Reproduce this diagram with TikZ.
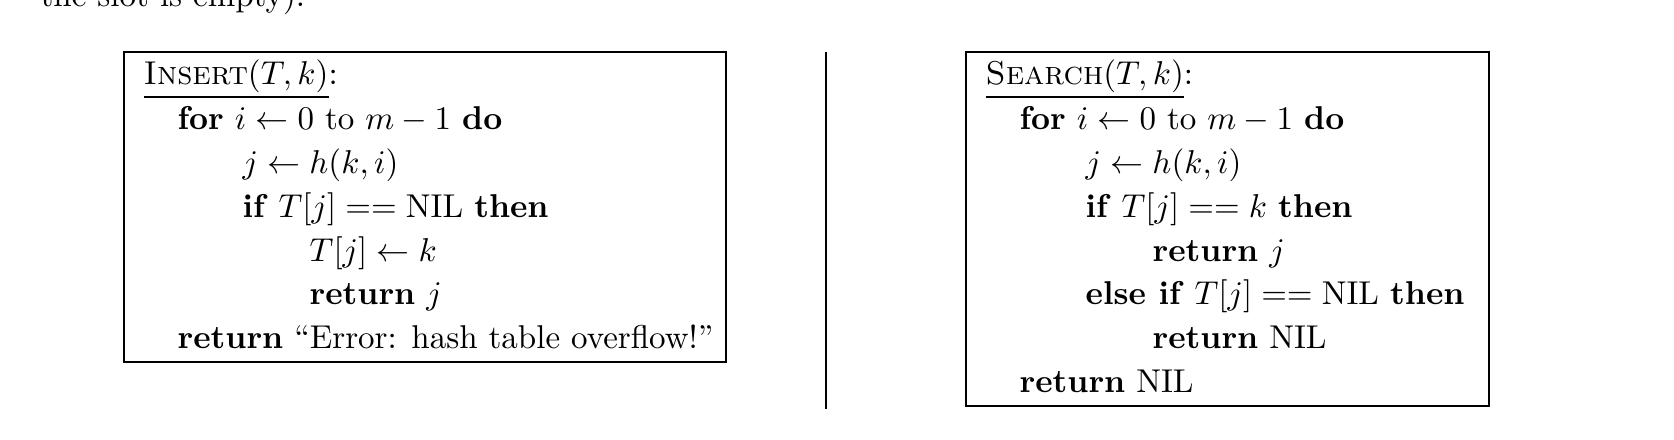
\documentclass[tikz,border=0pt]{standalone}
\usepackage{amsmath}
\begin{document}
\begin{tikzpicture}[x=0.303pt,y=-0.303pt,
  codeline/.style={anchor=base west, inner sep=0pt, font=\fontsize{10}{12}\selectfont},
  algbox/.style={draw, line width=0.45pt},
  divider/.style={draw, line width=0.4pt}]
\useasboundingbox (0,0) rectangle (1674,440);
% clipped top text
\node[codeline] (toptext) at (40,6) {the slot is empty).};
% left box
\draw[algbox] (124,52) rectangle (726,362);
\node[codeline] (i0) at (143,84) {\underline{\textsc{Insert}$(T,k)$}:};
\node[codeline] (i1) at (177,129) {\textbf{for} $i \gets 0$ to $m-1$ \textbf{do}};
\node[codeline] (i2) at (242,173) {$j \gets h(k,i)$};
\node[codeline] (i3) at (242,217) {\textbf{if} $T[j] == \mathrm{NIL}$ \textbf{then}};
\node[codeline] (i4) at (309,261) {$T[j] \gets k$};
\node[codeline] (i5) at (309,304) {\textbf{return} $j$};
\node[codeline] (i6) at (177,348) {\textbf{return} ``Error: hash table overflow!''};
% divider
\coordinate (dtop) at (826,52);
\coordinate (dbot) at (826,409);
\draw[divider] (dtop) -- (dbot);
% right box
\draw[algbox] (966,52) rectangle (1489,406);
\node[codeline] (s0) at (985,84) {\underline{\textsc{Search}$(T,k)$}:};
\node[codeline] (s1) at (1019,129) {\textbf{for} $i \gets 0$ to $m-1$ \textbf{do}};
\node[codeline] (s2) at (1085,173) {$j \gets h(k,i)$};
\node[codeline] (s3) at (1085,217) {\textbf{if} $T[j] == k$ \textbf{then}};
\node[codeline] (s4) at (1152,261) {\textbf{return} $j$};
\node[codeline] (s5) at (1085,304) {\textbf{else if} $T[j] == \mathrm{NIL}$ \textbf{then}};
\node[codeline] (s6) at (1152,348) {\textbf{return} NIL};
\node[codeline] (s7) at (1019,392) {\textbf{return} NIL};
\end{tikzpicture}
\end{document}
